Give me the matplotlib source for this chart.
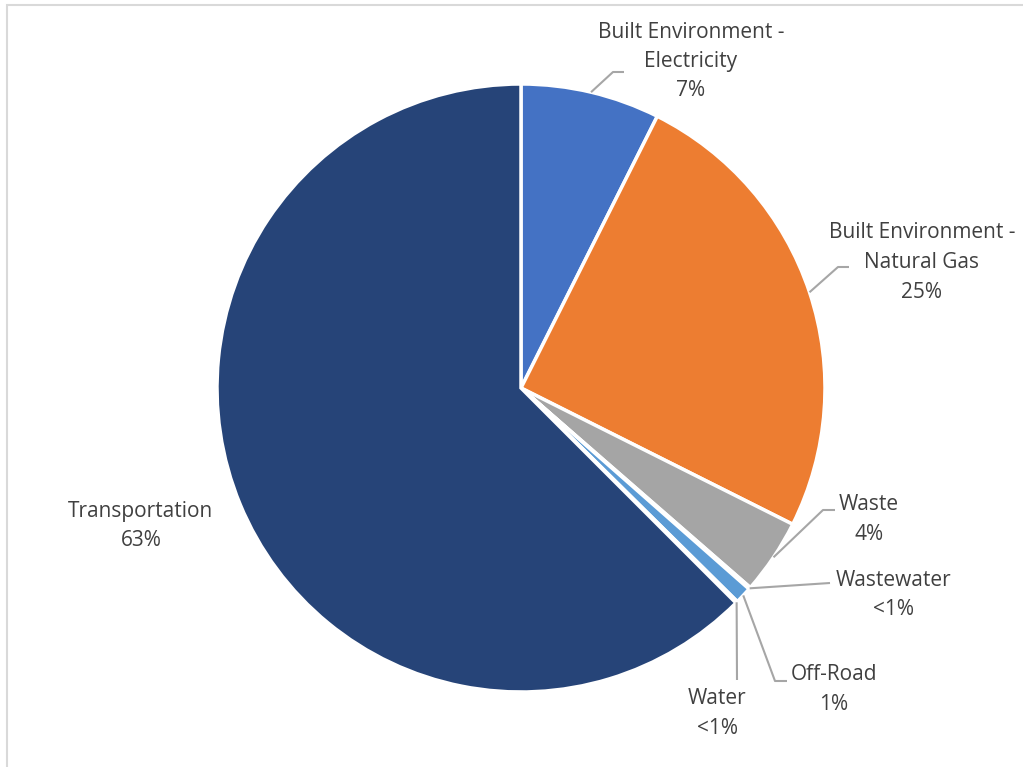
import numpy as np
import matplotlib
matplotlib.use("Agg")
import matplotlib.pyplot as plt
from matplotlib.patches import Rectangle

# ---- data ----
categories = ["Built Environment -\nElectricity", "Built Environment -\nNatural Gas",
              "Waste", "Wastewater", "Off-Road", "Water", "Transportation"]
values = [7.4, 25.0, 4.0, 0.1, 0.9, 0.1, 62.5]
pct_labels = ["7%", "25%", "4%", "<1%", "1%", "<1%", "63%"]
colors = ["#4472C4", "#ED7D31", "#A5A5A5", "#FFC000", "#5B9BD5", "#70AD47", "#264478"]

W, H = 1023, 767
fig = plt.figure(figsize=(W / 100, H / 100), dpi=100)
ax = fig.add_axes([0, 0, 1, 1])
ax.set_xlim(0, W)
ax.set_ylim(H, 0)
ax.axis("off")

# chart border (only top and left visible)
fig.patches.append(Rectangle((7 / W, -0.1), 1.2, (H - 5) / H + 0.1, transform=fig.transFigure,
                             fill=False, edgecolor="#D9D9D9", linewidth=1.5))

cx, cy, r = 521, 388, 304
wedges, _ = ax.pie(values, colors=colors, startangle=-90, counterclock=True,
                   radius=r, center=(cx, cy),
                   wedgeprops=dict(edgecolor="white", linewidth=2.5, joinstyle="miter"))
ax.set_aspect("equal")
ax.set_xlim(0, W)
ax.set_ylim(H, 0)

txt_color = "#404040"
font = dict(family="Open Sans", fontsize=15, color=txt_color)

# label layout: (text center x, first-line y), elbow point, end point
layout = {
    0: ((691, 32), (613, 72), (624, 72)),
    1: ((922, 233), (838, 267), (849, 267)),
    2: ((869, 505), (823, 510), (835, 510)),
    3: ((893, 580), None, (830, 583)),
    4: ((834, 675), (775, 681), (787, 681)),
    5: ((717, 699), None, (737, 680)),
    6: ((141, 511), None, None),
}

cum = np.cumsum([0] + values)
total = sum(values)
line_h = 29.5
for i, (cat, pl) in enumerate(zip(categories, pct_labels)):
    (tx, ty), elbow, end = layout[i]
    lines = cat.split("\n") + [pl]
    for k, ln in enumerate(lines):
        ax.text(tx, ty + k * line_h, ln, ha="center", va="center", **font)
    if end is not None:
        mid = (cum[i] + values[i] / 2) / total * 2 * np.pi
        sx, sy = cx + r * np.sin(mid), cy - r * np.cos(mid)
        pts = [(sx, sy)] + ([elbow] if elbow else []) + [end]
        xs, ys = zip(*pts)
        ax.plot(xs, ys, color="#A6A6A6", linewidth=1.5, solid_capstyle="butt")

fig.savefig("out.png", dpi=100, facecolor="white")
